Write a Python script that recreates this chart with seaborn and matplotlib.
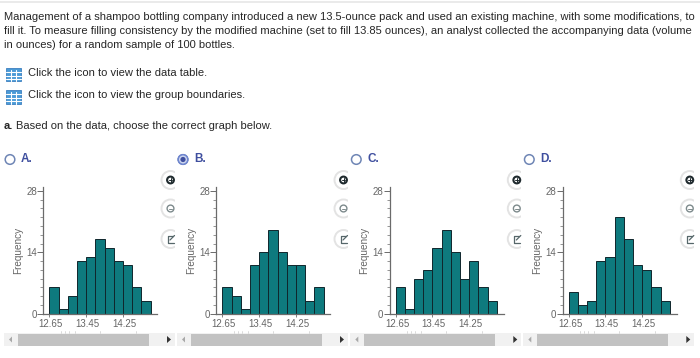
import matplotlib
matplotlib.use("Agg")
import matplotlib.pyplot as plt
import numpy as np
import seaborn as sns
from matplotlib.patches import Circle, Rectangle, Polygon
from matplotlib.transforms import ScaledTranslation

W, H = 700, 358

# bin edges and the four answer options
bin_edges = [12.65, 12.85, 13.05, 13.25, 13.45, 13.65, 13.85, 14.05, 14.25, 14.45, 14.65, 14.85]
freq_a = [6, 1, 4, 12, 13, 17, 15, 12, 11, 6, 3]
freq_b = [6, 4, 1, 11, 14, 19, 14, 11, 11, 3, 6]
freq_c = [6, 1, 8, 10, 15, 19, 14, 8, 12, 6, 3]
freq_d = [5, 2, 3, 12, 13, 22, 17, 11, 10, 6, 3]
option_labels = ["A.", "B.", "C.", "D."]
x_tick_labels = ["12.65", "13.45", "14.25"]
y_tick_labels = ["0", "14", "28"]

intro_lines = [
    "Management of a shampoo bottling company introduced a new 13.5-ounce pack and used an existing machine, with some modifications, to",
    "fill it. To measure filling consistency by the modified machine (set to fill 13.85 ounces), an analyst collected the accompanying data (volume",
    "in ounces) for a random sample of 100 bottles.",
]
link_lines = ["Click the icon to view the data table.", "Click the icon to view the group boundaries."]

TEAL = "#0e7a7e"
AXIS_GREY = "#6b6b6b"
TEXT_GREY = "#666666"
TEXT = "#262626"
BLUE = "#3f4f9f"
BODY_SIZE = 8.0

sns.set_theme(style="white")
plt.rcParams["font.family"] = ["Liberation Sans", "DejaVu Sans"]

fig = plt.figure(figsize=(W / 100, H / 100), dpi=100, facecolor="white")

# overlay in pixel coordinates for the page furniture
page = fig.add_axes([0, 0, 1, 1], zorder=0)
page.set_xlim(0, W)
page.set_ylim(H, 0)
page.axis("off")

page.plot([0, W], [1.5, 1.5], color="#e6e6e6", lw=1.2)

for text, y in zip(intro_lines, [17.5, 31.5, 45.5]):
    page.text(3.5, y, text, fontsize=BODY_SIZE, color=TEXT, va="center", ha="left")

for text, y in zip(link_lines, [73, 95.5]):
    iy = y + 1.5
    page.add_patch(Rectangle((5.5, iy - 7), 15, 13.5, fc="#4a9ad6", ec="#3c7fc0", lw=0.6))
    for gx in [10.5, 15.5]:
        page.plot([gx, gx], [iy - 5, iy + 6.5], color="white", lw=0.8)
    for gy in [iy - 3, iy + 1, iy + 4]:
        page.plot([5.5, 20.5], [gy, gy], color="white", lw=0.8)
    page.text(28, y, text, fontsize=BODY_SIZE, color=TEXT, va="center", ha="left")

page.text(3.5, 126, "a.", fontsize=BODY_SIZE, color=TEXT, va="center", ha="left", fontweight="bold")
page.text(16, 126, "Based on the data, choose the correct graph below.", fontsize=BODY_SIZE, color=TEXT, va="center", ha="left")


def draw_panel(offset, label, freqs, selected):
    # radio button and option letter
    page.add_patch(Circle((10 + offset, 159.5), 4.8, fc="white", ec="#6f86b5", lw=1.1))
    if selected:
        page.add_patch(Circle((10 + offset, 159.5), 4.8, fc="#cdd6ee", ec="#6f86d0", lw=1.1))
        page.add_patch(Circle((10 + offset, 159.5), 2.6, fc=BLUE, ec="none"))
    page.text(21 + offset, 159.5, label, fontsize=8.5, color=BLUE, va="center", ha="left", fontweight="bold")

    # histogram axes
    left, right, top, bottom = 43.3 + offset, 157.3 + offset, 187, 313.7
    ax = fig.add_axes([left / W, 1 - bottom / H, (right - left) / W, (bottom - top) / H], zorder=2)
    ax.patch.set_alpha(0)
    centers = (np.array(bin_edges[:-1]) + np.array(bin_edges[1:])) / 2
    sns.histplot(x=centers, weights=freqs, bins=bin_edges, color=TEAL, alpha=1,
                 edgecolor="#10262c", linewidth=0.7, ax=ax)
    ax.set_xlim(12.517, 14.997)
    ax.set_ylim(0, 28.9)
    ax.set_xticks([float(v) for v in x_tick_labels])
    ax.set_xticklabels(x_tick_labels)
    ax.set_yticks([float(v) for v in y_tick_labels])
    ax.set_yticklabels(y_tick_labels)
    ax.set_yticks(np.arange(0, 29, 2), minor=True)
    ax.tick_params(axis="x", which="major", bottom=True, length=2, width=0.6, color=AXIS_GREY,
                   pad=1.5, labelsize=7, labelcolor=TEXT_GREY)
    ax.tick_params(axis="y", which="major", left=True, length=4, width=0.7, color=AXIS_GREY,
                   pad=0.5, labelsize=7, labelcolor=TEXT_GREY)
    ax.tick_params(axis="y", which="minor", left=True, length=2, width=0.5, color=AXIS_GREY)
    # tick labels sit a little right of the bin edge in the reference
    nudge = ScaledTranslation(1.3 / 100, 0, fig.dpi_scale_trans)
    for tick_label in ax.get_xticklabels():
        tick_label.set_transform(tick_label.get_transform() + nudge)
    ax.set_xlabel("")
    ax.set_ylabel("Frequency", fontsize=7.2, color=TEXT_GREY, labelpad=2.5)
    sns.despine(ax=ax)
    for side in ["left", "bottom"]:
        ax.spines[side].set_color(AXIS_GREY)
        ax.spines[side].set_linewidth(0.9)

    # faint tick remains just above the scrollbar
    for fx in [61, 65, 69, 75, 100, 136]:
        page.plot([fx + offset, fx + offset], [331, 333], color="#d4d4d4", lw=0.6)

    # scrollbar under the plot
    page.add_patch(Rectangle((4 + offset, 333), 171, 13, fc="#f1f1f1", ec="none"))
    page.add_patch(Rectangle((18 + offset, 333.5), 130.5, 12, fc="#c2c2c2", ec="none"))
    page.add_patch(Polygon([(12 + offset, 336.5), (12 + offset, 342.5), (9 + offset, 339.5)], fc="#a8a8a8", ec="none"))
    page.add_patch(Polygon([(167 + offset, 336), (167 + offset, 343), (171 + offset, 339.5)], fc="#333333", ec="none"))

    # zoom in, zoom out and pop-out buttons, cut by the panel edge
    clip = Rectangle((150 + offset, 170), 25, 80, transform=page.transData)
    for i, cy in enumerate([180, 208.5, 239]):
        halo = Circle((170.5 + offset, cy), 9, fc="white", ec="#e3e3e3", lw=1.4)
        page.add_patch(halo)
        halo.set_clip_path(clip)
        if i == 0:
            page.add_patch(Circle((170.5 + offset, cy), 3.4, fc="white", ec="#1f2a2e", lw=1.5))
            page.plot([168.8 + offset, 172.2 + offset], [cy, cy], color="#1f2a2e", lw=0.7)
            page.plot([170.5 + offset, 170.5 + offset], [cy - 1.7, cy + 1.7], color="#1f2a2e", lw=0.7)
        elif i == 1:
            page.add_patch(Circle((170.5 + offset, cy), 3.4, fc="white", ec="#7d8a8c", lw=1.0))
            page.plot([168.8 + offset, 172.2 + offset], [cy, cy], color="#7d8a8c", lw=0.7)
        else:
            page.plot([172.5 + offset, 168 + offset, 168 + offset, 174 + offset],
                      [cy - 3.5, cy - 3.5, cy + 3.5, cy + 3.5], color="#56676a", lw=0.9)
            page.plot([170 + offset, 174.5 + offset], [cy + 1, cy - 3.5], color="#56676a", lw=0.9)


draw_panel(0, option_labels[0], freq_a, False)
draw_panel(173, option_labels[1], freq_b, True)
draw_panel(346.3, option_labels[2], freq_c, False)
draw_panel(519.3, option_labels[3], freq_d, False)

fig.savefig("out.png", dpi=100)
